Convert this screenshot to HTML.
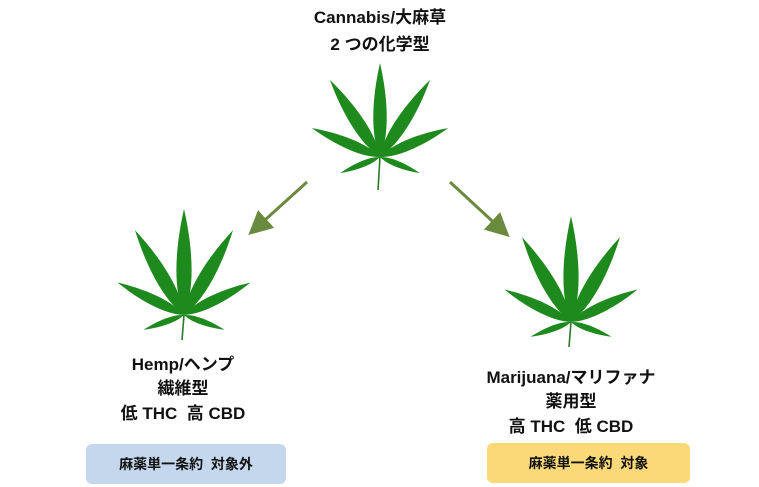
<!DOCTYPE html>
<html><head><meta charset="utf-8"><style>
body{margin:0;width:759px;height:487px;background:#fff;overflow:hidden;position:relative;font-family:"Liberation Sans","Noto Sans CJK JP",sans-serif;font-weight:bold;color:#111}
.t{position:absolute;text-align:center;font-size:17px;line-height:24px;white-space:nowrap;transform:translateX(-50%)}
.box{position:absolute;height:40px;border-radius:6px;font-size:14px;line-height:40px;text-align:center}
svg{position:absolute;left:0;top:0}
</style></head><body>
<svg width="759" height="487">
<defs>
<path id="lf" d="M0,0 C11,-25 8,-65 0,-100 C-8,-65 -11,-25 0,0Z" fill="#1e8a1e"/>
<g id="leaf">
<line x1="0" y1="0" x2="-2" y2="33" stroke="#2a7a2a" stroke-width="1.6"/>
<use href="#lf" transform="scale(0.94)"/>
<use href="#lf" transform="rotate(-33) scale(0.92)"/>
<use href="#lf" transform="rotate(33) scale(0.92)"/>
<use href="#lf" transform="rotate(-67) scale(0.74)"/>
<use href="#lf" transform="rotate(67) scale(0.74)"/>
<use href="#lf" transform="rotate(-112) scale(0.43)"/>
<use href="#lf" transform="rotate(112) scale(0.43)"/>
</g>
<g id="leaf2">
<line x1="0" y1="0" x2="-2" y2="25" stroke="#2a7a2a" stroke-width="1.6"/>
<use href="#lf" transform="scale(1.06)"/>
<use href="#lf" transform="rotate(-30) scale(0.98)"/>
<use href="#lf" transform="rotate(30) scale(0.98)"/>
<use href="#lf" transform="rotate(-64) scale(0.74)"/>
<use href="#lf" transform="rotate(64) scale(0.74)"/>
<use href="#lf" transform="rotate(-110) scale(0.43)"/>
<use href="#lf" transform="rotate(110) scale(0.43)"/>
</g>
<marker id="ah" markerWidth="8" markerHeight="8" refX="5" refY="4" orient="auto" markerUnits="strokeWidth"><path d="M0,0 L8,4 L0,8Z" fill="#6a8a3e"/></marker>
</defs>
<use href="#leaf" transform="translate(380,157)"/>
<use href="#leaf2" transform="translate(184,315)"/>
<use href="#leaf2" transform="translate(571,322)"/>
<line x1="307" y1="182" x2="255" y2="229" stroke="#6a8a3e" stroke-width="3" marker-end="url(#ah)"/>
<line x1="450" y1="182" x2="503" y2="231" stroke="#6a8a3e" stroke-width="3" marker-end="url(#ah)"/>
</svg>
<div class="t" style="left:380px;top:6px">Cannabis/大麻草</div>
<div class="t" style="left:380px;top:33px">2 つの化学型</div>
<div class="t" style="left:183px;top:353px">Hemp/ヘンプ</div>
<div class="t" style="left:183px;top:377px">繊維型</div>
<div class="t" style="left:183px;top:402px">低 THC&nbsp;&nbsp;高 CBD</div>
<div class="t" style="left:571px;top:366px">Marijuana/マリファナ</div>
<div class="t" style="left:571px;top:390px">薬用型</div>
<div class="t" style="left:571px;top:415px">高 THC&nbsp;&nbsp;低 CBD</div>
<div class="box" style="left:86px;top:444px;width:200px;background:#c4d7ec">麻薬単一条約&nbsp;&nbsp;対象外</div>
<div class="box" style="left:487px;top:443px;width:203px;background:#fbd978">麻薬単一条約&nbsp;&nbsp;対象</div>
</body></html>
